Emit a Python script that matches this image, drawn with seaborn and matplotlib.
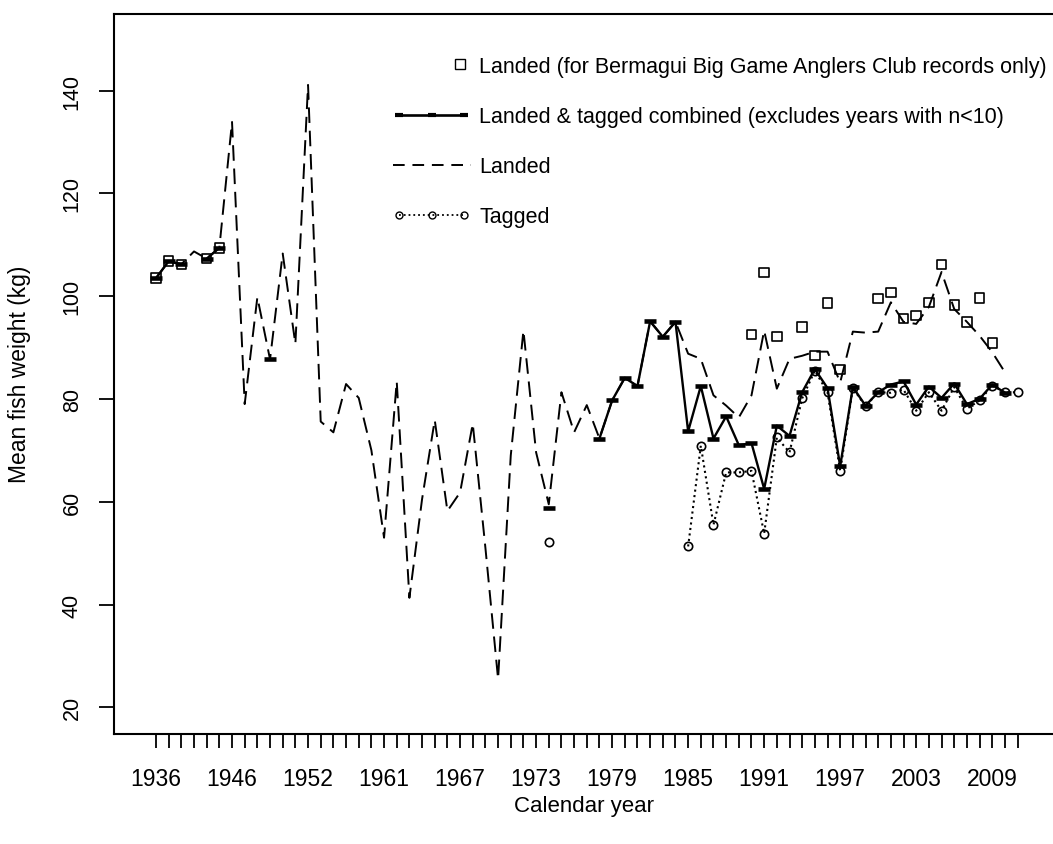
import numpy as np
import pandas as pd
import matplotlib
matplotlib.use("Agg")
import matplotlib.pyplot as plt
from matplotlib.lines import Line2D
from matplotlib.legend_handler import HandlerLine2D
import seaborn as sns

nan = np.nan

# ---------------- data ----------------
years = (list(range(1936, 1942)) + list(range(1946, 1958)) + list(range(1961, 2012)))

landed = [103.5, 106.8, 106.2, 108.7, 107.3, 109.4, 133.9, 79.0, 99.8, 87.7,
          108.3, 90.7, 141.1, 75.6, 73.5, 82.9, 80.2, 70.0, 53.0, 83.4,
          41.3, 60.5, 75.9, 58.2, 61.8, 75.2, 51.0, 25.5, 69.0, 93.3,
          69.6, 59.5, 81.3, 73.5, 78.8, 72.3, 79.7, 84.1, 82.5, 95.1,
          92.1, 95.0, 88.8, 87.8, 80.7, 78.7, 76.4, 80.7, 93.3, 82.0,
          87.8, 88.4, 89.2, 89.2, 83.2, 93.1, 92.9, 93.1, 98.8, 95.0,
          94.6, 97.9, 104.7, 97.5, 95.0, 92.3, 89.1, 85.2, nan]

combined = [103.5, 106.8, 106.2, nan, 107.3, 109.4, nan, nan, nan, 87.7,
            nan, nan, nan, nan, nan, nan, nan, nan, nan, nan,
            nan, nan, nan, nan, nan, nan, nan, nan, nan, nan,
            nan, 58.8, nan, nan, nan, 72.3, 79.7, 84.1, 82.5, 95.1,
            92.1, 95.0, 73.7, 82.5, 72.3, 76.6, 71.0, 71.4, 62.5, 74.8,
            72.8, 81.3, 85.8, 82.1, 66.9, 82.3, 78.7, 81.3, 82.8, 83.4,
            78.9, 82.4, 80.2, 83.0, 79.0, 80.0, 82.8, 81.2, nan]

bbgac = [103.5, 106.8, 106.2, nan, 107.3, 109.4, nan, nan, nan, nan,
         nan, nan, nan, nan, nan, nan, nan, nan, nan, nan,
         nan, nan, nan, nan, nan, nan, nan, nan, nan, nan,
         nan, nan, nan, nan, nan, nan, nan, nan, nan, nan,
         nan, nan, nan, nan, nan, nan, nan, 92.5, 104.6, 92.1,
         nan, 94.0, 88.4, 98.7, 85.7, nan, nan, 99.5, 100.7, 95.6,
         96.2, 98.8, 106.2, 98.3, 95.0, 99.6, 90.9, nan, nan]

tagged = [nan, nan, nan, nan, nan, nan, nan, nan, nan, nan,
          nan, nan, nan, nan, nan, nan, nan, nan, nan, nan,
          nan, nan, nan, nan, nan, nan, nan, nan, nan, nan,
          nan, 52.1, nan, nan, nan, nan, nan, nan, nan, nan,
          nan, nan, 51.3, 70.9, 55.5, 65.7, 65.7, 66.0, 53.8, 72.5,
          69.6, 80.1, 85.5, 81.3, 66.0, 82.1, 78.6, 81.3, 81.2, 81.8,
          77.7, 81.3, 77.7, 82.3, 78.1, 79.7, 82.6, 81.3, 81.3]

yticks = [20, 40, 60, 80, 100, 120, 140]
label_every = 6

legend_labels = ["Landed (for Bermagui Big Game Anglers Club records only)",
                 "Landed & tagged combined (excludes years with n<10)",
                 "Landed",
                 "Tagged"]


def segments(values):
    """Table of a series with a segment id so gaps break the line."""
    s = pd.Series(values, dtype=float)
    seg = s.isna().cumsum()
    df = pd.DataFrame({"x": np.arange(len(s)), "y": s, "seg": seg})
    return df.dropna()


class RightMarkerHandler(HandlerLine2D):
    """Legend handler that puts a single marker near the right end of the handle."""
    def get_xdata(self, legend, xdescent, ydescent, width, height, fontsize):
        xdata = np.array([-xdescent + 0.74 * width, -xdescent + width])
        xdata_marker = np.array([-xdescent + 0.87 * width])
        return xdata, xdata_marker


# ---------------- figure ----------------
sns.set_theme(style="white")
plt.rcParams["font.family"] = ["Liberation Sans", "DejaVu Sans"]
for k in ["text.color", "axes.labelcolor", "xtick.color", "ytick.color",
          "axes.edgecolor"]:
    plt.rcParams[k] = "black"

fig = plt.figure(figsize=(10.53, 8.45), dpi=100)
ax = fig.add_axes([114 / 1053, (845 - 734.5) / 845, 1 - 114 / 1053, (734.5 - 15) / 845])

# Landed (dashed)
sns.lineplot(data=segments(landed), x="x", y="y", units="seg", estimator=None,
             sort=False, color="black", lw=1.4, ax=ax,
             linestyle=(0, (8, 4)))

# Combined (solid with bar markers)
sns.lineplot(data=segments(combined), x="x", y="y", units="seg", estimator=None,
             sort=False, color="black", lw=1.7, marker="_", ms=8.5,
             mew=3.3, mec="black", ax=ax)

# Tagged (dotted with open circles)
sns.lineplot(data=segments(tagged), x="x", y="y", units="seg", estimator=None,
             sort=False, color="black", lw=1.5, linestyle=":", marker="o",
             ms=6, mfc="none", mew=1.2, mec="black", ax=ax)

# Landed BBGAC (open squares)
bb = segments(bbgac)
sns.scatterplot(data=bb, x="x", y="y", marker="s", s=46, facecolor="none",
                edgecolor="black", linewidth=1.2, ax=ax, zorder=3)

# ---------------- axes ----------------
n = len(years)
ax.set_xlim((114 - 156) / 12.67, (1053 - 156) / 12.67)
ax.set_ylim(14.9, 154.9)
ax.set_xticks(range(n))
ax.set_xticklabels([str(y) if i % label_every == 0 else "" for i, y in enumerate(years)],
                   fontsize=16.5)
ax.set_yticks(yticks)
ax.set_yticklabels([str(v) for v in yticks], fontsize=15.5, rotation=90, va="center")

ax.tick_params(axis="x", direction="out", length=10, width=1.3, colors="black",
               pad=14, bottom=True)
ax.tick_params(axis="y", direction="out", length=10.5, width=1.3, colors="black",
               pad=12, left=True)

for side in ["left", "bottom", "top"]:
    ax.spines[side].set_visible(True)
    ax.spines[side].set_color("black")
    ax.spines[side].set_linewidth(1.5)
ax.spines["right"].set_visible(False)

ax.set_xlabel("Calendar year", fontsize=16)
ax.set_ylabel("Mean fish weight (kg)", fontsize=16.5)
ax.xaxis.set_label_coords(0.5, (734.5 - 796) / 719.5)
ax.yaxis.set_label_coords((31 - 114) / 939, 0.5)

# ---------------- legend ----------------
h_sq = Line2D([], [], ls="", marker="s", ms=6.8, mfc="none", mec="black", mew=1.0)
h_comb = Line2D([], [], color="black", lw=1.9, marker="_", ms=6, mew=3, mec="black")
h_land = Line2D([], [], color="black", lw=1.4, linestyle=(0, (6, 4)))
h_tag = Line2D([], [], color="black", lw=1.3, linestyle=":", marker="o", ms=5,
               mfc="none", mec="black", mew=1.0)
ax.legend([h_sq, h_comb, h_land, h_tag], legend_labels,
          handler_map={h_sq: RightMarkerHandler(),
                       h_comb: HandlerLine2D(numpoints=3),
                       h_tag: HandlerLine2D(numpoints=3)},
          loc="upper left", bbox_to_anchor=(393 / 1053, 1 - 57 / 845),
          bbox_transform=fig.transFigure, frameon=False, fontsize=15.5,
          handlelength=3.6, handletextpad=0.4, labelspacing=1.35,
          borderpad=0, borderaxespad=0)

fig.savefig("out.png", dpi=100)
